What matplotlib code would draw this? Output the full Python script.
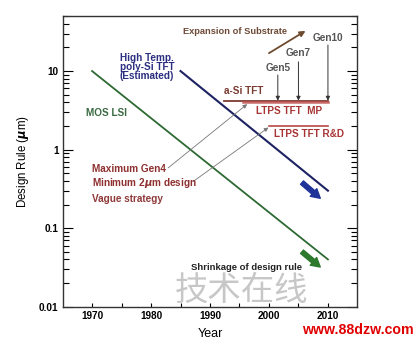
import matplotlib
matplotlib.use("Agg")
import matplotlib.pyplot as plt
from matplotlib.ticker import FixedLocator, LogLocator, NullFormatter, FuncFormatter

plt.rcParams['font.family'] = ['Liberation Sans', 'DejaVu Sans']
plt.rcParams['font.weight'] = 'bold'

# data
mos_years = [1970, 2010]
mos_rule = [10, 0.04]
htps_years = [1985, 2010]
htps_rule = [10, 0.3]
asi_years = [1992.3, 2010]
asi_rule = [4.2, 4.2]
ltps_mp_years = [1995.6, 2010]
ltps_mp_rule = [4.0, 4.0]
ltps_rd_years = [2000, 2010]
ltps_rd_rule = [2.0, 2.0]

gen_labels = ['Gen5', 'Gen7', 'Gen10']
gen_years = [2001.5, 2005, 2010]
gen_top = [8.9, 13.1, 21.5]
gen_label_y = [11.1, 16.9, 26.7]

year_ticks = [1970, 1980, 1990, 2000, 2010]

fs = 7.2

fig = plt.figure(figsize=(4.2, 3.41), dpi=100)
ax = fig.add_axes([0.149, 0.1006, 0.702, 0.852])
ax.set_yscale('log')
ax.set_xlim(1965, 2015)
ax.set_ylim(0.01, 50)

ax.plot(mos_years, mos_rule, color='#2d6a33', lw=1.3)
ax.plot(htps_years, htps_rule, color='#1c2262', lw=1.5)
ax.plot(asi_years, asi_rule, color='#7a3b30', lw=1.3)
ax.plot(ltps_mp_years, ltps_mp_rule, color='#c0504d', lw=1.8, alpha=0.85)
ax.plot(ltps_rd_years, ltps_rd_rule, color='#b84848', lw=1.2)

for yr, top, lab, ly in zip(gen_years, gen_top, gen_labels, gen_label_y):
    ax.annotate('', xy=(yr, asi_rule[0]), xytext=(yr, top),
                arrowprops=dict(arrowstyle='-|>', color='#333333', lw=0.7,
                                mutation_scale=6, shrinkA=0, shrinkB=0))
    ax.text(yr, ly, lab, color='#555555', fontsize=fs, ha='center', va='center')

# substrate expansion arrow
ax.annotate('', xy=(2006.2, 32.5), xytext=(2000, 16.9),
            arrowprops=dict(arrowstyle='-|>', color='#6e4a2e', lw=1.3,
                            mutation_scale=8, shrinkA=0, shrinkB=0))
ax.text(1985.4, 31.9, 'Expansion of Substrate', color='#6e4a36', fontsize=6.7,
        ha='left', va='center')

# gray pointer arrows
ax.annotate('', xy=(1996.3, 3.79), xytext=(1982.9, 0.585),
            arrowprops=dict(arrowstyle='-|>', color='#777777', lw=0.6,
                            mutation_scale=6, shrinkA=0, shrinkB=0))
ax.annotate('', xy=(1999.9, 1.91), xytext=(1987.1, 0.391),
            arrowprops=dict(arrowstyle='-|>', color='#777777', lw=0.6,
                            mutation_scale=6, shrinkA=0, shrinkB=0))

# thick trend arrows
ax.annotate('', xy=(2008.7, 0.24), xytext=(2005.6, 0.38),
            arrowprops=dict(arrowstyle='simple,head_width=0.9,head_length=0.8,tail_width=0.4',
                            color='#1f3399', shrinkA=0, shrinkB=0, mutation_scale=8))
ax.annotate('', xy=(2008.7, 0.032), xytext=(2005.6, 0.05),
            arrowprops=dict(arrowstyle='simple,head_width=0.9,head_length=0.8,tail_width=0.4',
                            color='#2d7a2d', shrinkA=0, shrinkB=0, mutation_scale=8))

ax.text(1992.3, 5.65, 'a-Si TFT', color='#7a3b30', fontsize=fs, va='center')
ax.text(1997.8, 3.14, 'LTPS TFT  MP', color='#a83535', fontsize=fs, va='center')
ax.text(2000.8, 1.57, 'LTPS TFT R&D', color='#a83535', fontsize=fs, va='center')
ax.text(1974.7, 17.2, 'High Temp.\npoly-Si TFT\n(Estimated)', color='#2b2f80',
        fontsize=fs, va='top', linespacing=0.92)
ax.text(1969.0, 2.96, 'MOS LSI', color='#3a6a42', fontsize=fs, va='center')
ax.text(1970.05, 0.56, 'Maximum Gen4', color='#8e3030', fontsize=fs, va='center')
ax.text(1970.05, 0.373, 'Minimum 2$\\mu$m design', color='#8e3030', fontsize=fs,
        va='center')
ax.text(1970.05, 0.238, 'Vague strategy', color='#8e3a3a', fontsize=fs, va='center')
ax.text(1986.8, 0.032, 'Shrinkage of design rule', color='#222222', fontsize=6.8,
        va='center')

# axes styling
ax.xaxis.set_major_locator(FixedLocator(year_ticks))
ax.xaxis.set_minor_locator(FixedLocator([1975, 1985, 1995, 2005]))
ax.yaxis.set_major_locator(LogLocator(base=10))
ax.yaxis.set_minor_locator(LogLocator(base=10, subs=range(2, 10)))
ax.yaxis.set_minor_formatter(NullFormatter())
ax.yaxis.set_major_formatter(FuncFormatter(lambda v, p: '%g' % v))
ax.tick_params(axis='both', which='both', direction='in', labelsize=fs,
               pad=3, width=0.8)
ax.tick_params(axis='y', which='major', length=7, right=True)
ax.tick_params(axis='y', which='minor', length=4, right=True)
ax.tick_params(axis='x', which='both', length=3)
for s in ax.spines.values():
    s.set_linewidth(1.0)
    s.set_color('#333333')

ax.set_xlabel('Year', fontsize=9, labelpad=5)
ax.set_ylabel('Design Rule ($\\mu$m)', fontsize=8.3, labelpad=6)

# watermarks
fig.text(0.575, 0.148, '技术在线', family=['Noto Sans CJK SC', 'DejaVu Sans'],
         fontsize=24, color='#999999', alpha=0.55, ha='center', va='center',
         fontweight='normal')
fig.text(0.985, 0.032, 'www.88dzw.com', color='#e00000', fontsize=10.2,
         ha='right', va='center')

fig.savefig('out.png', dpi=100)
